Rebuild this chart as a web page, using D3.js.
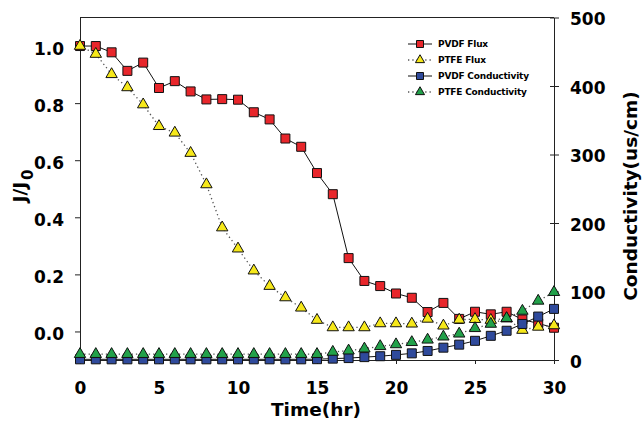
<!DOCTYPE html>
<html lang="en">
  <head>
    <title>Flux and Conductivity</title>
    <script src="https://d3js.org/d3.v7.min.js"></script>
    <style>
      body { margin: 0; background: #fff; }
      text { font-family: "DejaVu Sans", sans-serif; font-weight: bold; }
    </style>
  </head>
  <body>
  <script>
  const width = 643;
  const height = 421;

  // time in hours
  const time = [0, 1, 2, 3, 4, 5, 6, 7, 8, 9, 10, 11, 12, 13, 14, 15, 16, 17, 18, 19, 20,
    21, 22, 23, 24, 25, 26, 27, 28, 29, 30];

  // J/J0 (left axis)
  const pvdfFlux = [1.0, 1.0, 0.978, 0.913, 0.942, 0.853, 0.877, 0.841, 0.813, 0.814, 0.812,
    0.768, 0.743, 0.676, 0.647, 0.555, 0.481, 0.257, 0.177, 0.159, 0.133,
    0.118, 0.068, 0.100, 0.044, 0.069, 0.060, 0.069, 0.042, 0.028, 0.013];
  const ptfeFlux = [1.0, 0.972, 0.901, 0.855, 0.795, 0.719, 0.696, 0.625, 0.515, 0.364, 0.290,
    0.213, 0.159, 0.119, 0.083, 0.040, 0.014, 0.014, 0.014, 0.028, 0.028,
    0.027, 0.044, 0.020, 0.041, 0.043, 0.040, 0.045, 0.005, 0.016, 0.021];

  // conductivity in us/cm (right axis)
  const pvdfCond = [1, 1, 1, 1, 1, 1, 1, 1, 1, 1, 1, 1, 1, 1, 1, 1.2, 2, 2.8, 4.2, 5.5, 7.5,
    9.7, 13.2, 18, 22.4, 28, 35.3, 42.7, 52.6, 63.4, 74.6];
  const ptfeCond = [8.5, 8.5, 8.5, 8.5, 8.5, 8.5, 8.5, 8.5, 8.5, 8.5, 8.5, 8.5, 8.5, 8.5, 8.5, 8.5,
    11.7, 13.6, 16.5, 20, 22.7, 25.9, 29.5, 34, 38.3, 46.3, 52.6, 61, 71.6, 86.3, 99];

  const leftTicks = [0.0, 0.2, 0.4, 0.6, 0.8, 1.0];
  const rightTicks = [0, 100, 200, 300, 400, 500];
  const timeTicks = [0, 5, 10, 15, 20, 25, 30];

  const plotLeft = 80, plotRight = 554, plotTop = 17.5, plotBottom = 360;

  const svg = d3.select(document.body).append('svg').attr('width', width).attr('height', height);

  const x = d3.scaleLinear().domain([0, 30]).range([plotLeft, plotRight]);
  const yL = d3.scaleLinear().domain([-0.1, 1.1]).range([plotBottom, plotTop]);
  const yR = d3.scaleLinear().domain([0, 500]).range([plotBottom, plotTop]);

  // frame top
  svg.append('line').attr('x1', plotLeft).attr('x2', plotRight).attr('y1', plotTop).attr('y2', plotTop)
    .attr('stroke', '#222').attr('stroke-width', 1);

  // axes
  const gx = svg.append('g').attr('transform', 'translate(0,' + plotBottom + ')')
    .call(d3.axisBottom(x).tickValues(timeTicks).tickSize(4).tickSizeOuter(0).tickPadding(30).tickFormat(d3.format('d')));
  gx.selectAll('text').attr('font-size', 17).attr('dy', 0);

  const gl = svg.append('g').attr('transform', 'translate(' + plotLeft + ',0)')
    .call(d3.axisLeft(yL).tickValues(leftTicks).tickSize(5).tickSizeOuter(0).tickPadding(11).tickFormat(d3.format('.1f')));
  gl.selectAll('text').attr('font-size', 17).attr('dy', '0.47em');

  const gr = svg.append('g').attr('transform', 'translate(' + plotRight + ',0)')
    .call(d3.axisRight(yR).tickValues(rightTicks).tickSize(5).tickSizeOuter(0).tickPadding(11).tickFormat(d3.format('d')));
  gr.selectAll('text').attr('font-size', 17).attr('dy', '0.43em');
  gr.selectAll('.tick line').attr('x1', -4);

  svg.selectAll('.domain').attr('stroke', '#222');
  svg.selectAll('.tick line').attr('stroke', '#222');
  svg.selectAll('.tick text').attr('fill', '#000').attr('font-family', '"DejaVu Sans", sans-serif');

  // axis titles
  svg.append('text').attr('x', 316).attr('y', 416).attr('text-anchor', 'middle')
    .attr('font-size', 18.5).text('Time(hr)');

  const jt = svg.append('text').attr('transform', 'translate(26,186) rotate(-90)')
    .attr('text-anchor', 'middle').attr('font-size', 18.5);
  jt.append('tspan').text('J/J');
  jt.append('tspan').attr('font-size', 15).attr('dy', 7).attr('dx', 2).text('0');

  svg.append('text').attr('transform', 'translate(637,196) rotate(-90)')
    .attr('text-anchor', 'middle').attr('font-size', 18.5).text('Conductivity(us/cm)');

  // series
  const series = [
    { name: 'PVDF Flux', values: pvdfFlux, y: yL, shape: d3.symbolSquare, fill: '#e8262b', dotted: false },
    { name: 'PTFE Flux', values: ptfeFlux, y: yL, shape: d3.symbolTriangle, fill: '#f6e81a', dotted: true },
    { name: 'PVDF Conductivity', values: pvdfCond, y: yR, shape: d3.symbolSquare, fill: '#2f4a9c', dotted: false },
    { name: 'PTFE Conductivity', values: ptfeCond, y: yR, shape: d3.symbolTriangle, fill: '#22a14a', dotted: true }
  ];

  function styleLine(sel, s) {
    sel.attr('fill', 'none')
      .attr('stroke', s.dotted ? '#555' : '#111')
      .attr('stroke-width', s.dotted ? 1.3 : 1)
      .attr('stroke-dasharray', s.dotted ? '1.3,3' : null);
  }

  function symbolSize(s) {
    return s.shape === d3.symbolSquare ? 81 : 56;
  }

  series.forEach(function(s) {
    const pts = time.map(function(t, i) { return [x(t), s.y(s.values[i])]; });
    svg.append('path').attr('d', d3.line()(pts)).call(styleLine, s);
  });

  series.forEach(function(s) {
    svg.append('g').selectAll('path').data(time).enter().append('path')
      .attr('transform', function(t, i) { return 'translate(' + x(t) + ',' + s.y(s.values[i]) + ')'; })
      .attr('d', d3.symbol().type(s.shape).size(symbolSize(s)))
      .attr('fill', s.fill).attr('stroke', '#111').attr('stroke-width', 1);
  });

  // legend
  const legend = svg.append('g');
  series.forEach(function(s, i) {
    const ly = 44 + i * 16;
    legend.append('line').attr('x1', 408).attr('x2', 432).attr('y1', ly).attr('y2', ly).call(styleLine, s);
    legend.append('path').attr('transform', 'translate(420,' + ly + ')')
      .attr('d', d3.symbol().type(s.shape).size(s.shape === d3.symbolSquare ? 49 : 36))
      .attr('fill', s.fill).attr('stroke', '#111').attr('stroke-width', 1);
    legend.append('text').attr('x', 438).attr('y', ly + 3.3).attr('font-size', 9)
      .attr('letter-spacing', -0.2).text(s.name);
  });
</script>
  </body>

</html>
